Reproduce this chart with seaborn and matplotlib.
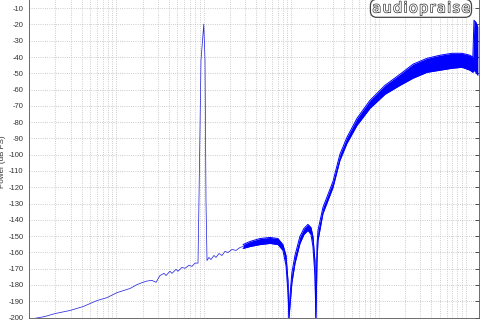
import matplotlib
matplotlib.use("Agg")
import matplotlib.pyplot as plt
import matplotlib.patheffects as pe
from matplotlib.ticker import LogLocator, NullFormatter
import numpy as np
import seaborn as sns

# ---- data (frequency in Hz, power in dB FS) ----
# thin low-frequency part with the 1 kHz test tone
freq_lo = [11.7, 15.2, 19.8, 29.4, 41.5, 60, 78, 102, 143, 172, 201, 224, 255, 284,
           316, 351, 370, 410, 433, 481, 507, 563, 609, 677, 733, 793, 859,
           881, 929, 1000, 1033, 1060, 1089,
           1146, 1208, 1308, 1380, 1493, 1615, 1749, 1892, 2103, 2335, 2595, 2810]
db_lo = [-200.5, -199.4, -197.6, -195.7, -193.3, -189.6, -187.8, -184.7, -182.2, -179.8,
         -178.4, -177.6, -177.2, -178.4,
         -174.2, -172.9, -174.2, -171.6, -172.9, -170.4, -171.6, -169.2, -169.8, -167.9,
         -168.6, -166.6, -166.6,
         -128.1, -42.0, -19.8, -42.0, -128.1, -165.0,
         -163.1, -164.4, -161.9, -163.1, -160.7, -161.9, -159.4, -160.1, -158.2, -158.8,
         -157.0, -156.4]

# noise-shaped part: lower / upper envelope of the dense noise trace
freq_band = [2810, 3380, 4400, 5720, 7060, 8050, 8730, 9190, 9440, 9690, 10200, 11050,
             12600, 14000, 15550, 16860, 17750, 18700, 19200, 19740, 20270, 23100,
             30100, 36100, 43500, 56600, 79800, 118400, 176000, 248000, 358000,
             505000, 692000, 900000, 1110000, 1200000, 1236000, 1300000, 1370000]
band_hi = [-155.2, -153.3, -151.5, -150.8, -151.5, -155.2, -161.9, -177.3, -200.5, -186.5,
           -172.4, -161.9, -150.2, -145.3, -142.8, -144.7, -150.2, -165.0, -200.5, -155.8,
           -146.5, -132.4, -116.4, -99.8, -89.3, -77.7, -66.6, -57.4, -50.6, -44.4, -40.8,
           -38.9, -37.7, -37.7, -38.9, -40.1, -17.4, -18.6, -21.7]
band_lo = [-157.6, -156.4, -155.2, -154.5, -155.2, -158.8, -168.1, -184.7, -200.5, -192.7,
           -178.5, -166.8, -154.5, -149.0, -146.5, -149.0, -156.4, -174.2, -200.5, -166.2,
           -152.7, -136.1, -120.1, -103.5, -93.0, -82.0, -71.5, -62.9, -57.4, -53.0, -49.4,
           -48.1, -46.9, -46.3, -48.1, -49.4, -48.1, -49.4, -51.2]

y_ticks = list(range(-200, 0, 10))

sns.set_style("white")
plt.rcParams["font.family"] = ["Liberation Sans", "DejaVu Sans"]
plt.rcParams["axes.unicode_minus"] = False

fig = plt.figure(figsize=(4.8, 3.2), dpi=100)
ax = fig.add_axes([29 / 480, 2.5 / 320, 450 / 480, 325.6 / 320])

sns.lineplot(x=freq_lo, y=db_lo, ax=ax, color="#2a2ae0", lw=0.55,
             sort=False, estimator=None)
ax.fill_between(freq_band, band_lo, band_hi, color="#0000ff", lw=0)
sns.lineplot(x=freq_band, y=band_hi, ax=ax, color="#0000ff", lw=0.7,
             sort=False, estimator=None)
sns.lineplot(x=freq_band, y=band_lo, ax=ax, color="#0000ff", lw=0.7,
             sort=False, estimator=None)

ax.set_xscale("log")
ax.set_xlim(10, 1411200)
ax.set_ylim(-200, 0)
ax.set_yticks(y_ticks)
ax.xaxis.set_major_locator(LogLocator(base=10))
ax.xaxis.set_minor_locator(LogLocator(base=10, subs=np.arange(2, 10)))
ax.xaxis.set_minor_formatter(NullFormatter())

ax.grid(which="both", axis="x", ls=":", color="#bcbcbc", lw=0.6)
ax.grid(which="major", axis="y", ls=":", color="#bcbcbc", lw=0.6)
ax.axhline(0, color="#bcbcbc", lw=0.6, ls=":")
ax.set_axisbelow(True)

ax.tick_params(which="both", direction="in", top=True, right=True,
               labelbottom=False, labelsize=5.5, pad=4, colors="#333333")
ax.tick_params(which="major", length=3, width=0.6)
ax.tick_params(which="minor", length=1.6, width=0.5)
for s in ax.spines.values():
    s.set_color("#555555")
    s.set_linewidth(0.6)

ax.set_xlabel("")
ax.set_ylabel("Power (dB FS)", fontsize=5.8, color="#333333")
ax.yaxis.set_label_coords(-0.05, 0.478)

fig.text(0.877, 0.974, "a u d i o p r a i s e".replace(" ", "\u200a"),
         ha="center", va="center", fontsize=10.3,
         color="white", fontfamily=["DejaVu Sans"],
         path_effects=[pe.withStroke(linewidth=1.0, foreground="#3a3a3a")],
         bbox=dict(boxstyle="round,pad=0.14,rounding_size=0.45", fc="white",
                   ec="#444444", lw=0.9))

fig.savefig("out.png", dpi=100)
